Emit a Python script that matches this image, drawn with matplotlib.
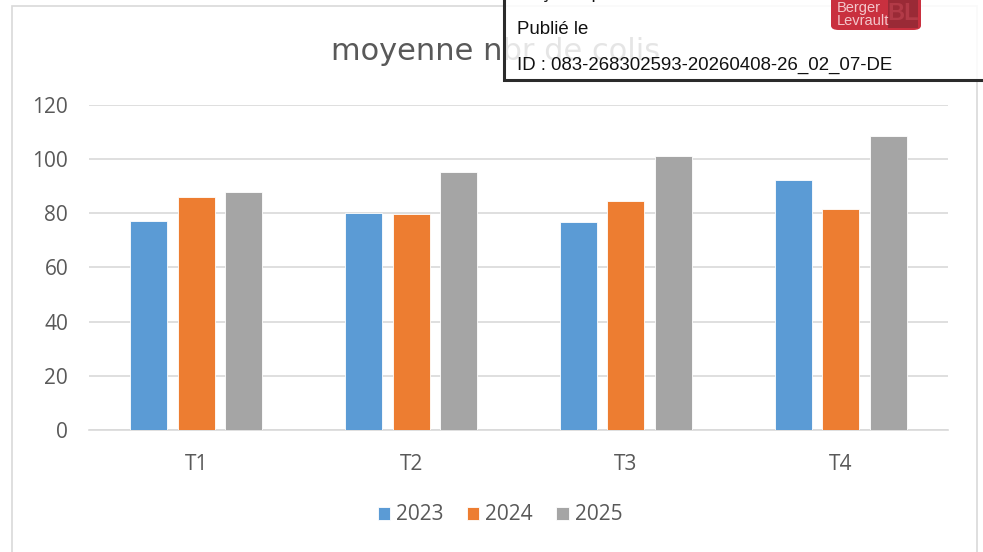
import numpy as np
import matplotlib
matplotlib.use("Agg")
import matplotlib.pyplot as plt
from matplotlib.patches import Rectangle, FancyBboxPatch

# data
categories = ["T1", "T2", "T3", "T4"]
years = ["2023", "2024", "2025"]
values_2023 = [77.2, 80.0, 76.8, 92.1]
values_2024 = [85.8, 79.7, 84.3, 81.6]
values_2025 = [87.7, 95.3, 100.9, 108.6]
colors = ["#5B9BD5", "#ED7D31", "#A5A5A5"]

W, H = 983, 552
fig = plt.figure(figsize=(W / 100, H / 100), dpi=100)
plt.rcParams['font.family'] = ['Open Sans', 'DejaVu Sans']
txt = "#595959"

def fx(px):
    return px / W

def fy(py):
    return 1 - py / H

# plot area
ax = fig.add_axes([fx(89), fy(430), fx(948) - fx(89), fy(104.7) - fy(430)])
x = np.arange(len(categories))
bw = 0.1725
step = 0.2214
series = [values_2023, values_2024, values_2025]
bars = []
for i, vals in enumerate(series):
    b = ax.bar(x + (i - 1) * step, vals, bw, color=colors[i], label=years[i],
               edgecolor="white", linewidth=0.6, zorder=3)
    bars.append(b)

ax.set_xlim(-0.5, 3.5)
ax.set_ylim(0, 120)
ax.set_yticks(range(0, 121, 20))
ax.set_xticks(x)
ax.set_xticklabels(categories)
ax.grid(axis="y", color="#D9D9D9", linewidth=1.2, zorder=0)
for s in ["top", "right", "left"]:
    ax.spines[s].set_visible(False)
ax.spines["bottom"].set_color("#D9D9D9")
ax.spines["bottom"].set_linewidth(1.2)
ax.tick_params(axis="both", length=0, labelsize=15, colors=txt)
ax.tick_params(axis="y", pad=15)
ax.tick_params(axis="x", pad=17)
ax.patch.set_alpha(0)

# title
fig.text(fx(496), fy(52), "moyenne nbr de colis", ha="center", va="center",
         fontsize=22, color=txt, family="DejaVu Sans")

# legend
fig.legend(handles=bars, labels=years, loc="center", bbox_to_anchor=(fx(500), fy(515)),
           ncol=3, frameon=False, fontsize=15, labelcolor=txt, handlelength=0.6,
           handleheight=0.6, handletextpad=0.3, columnspacing=1.1)

# chart border
fig.patches.append(Rectangle((fx(12), fy(560)), fx(977) - fx(12), fy(6) - fy(560),
                             transform=fig.transFigure, fill=False,
                             edgecolor="#D9D9D9", linewidth=1.2))

# stamp overlay
fig.patches.append(Rectangle((fx(504), fy(80)), fx(1000) - fx(504), fy(-20) - fy(80),
                             transform=fig.transFigure, facecolor=(1, 1, 1, 0.85),
                             edgecolor="#2b2b2b", linewidth=2.2, zorder=5))
stamp_font = ['Liberation Sans', 'DejaVu Sans']
fig.text(fx(517), fy(-6), "Reçu en préfecture le 15/04/2026", ha="left", va="center",
         fontsize=13.4, color="#111111", family=stamp_font, zorder=6)
fig.text(fx(517), fy(30), "Publié le", ha="left", va="center",
         fontsize=13.4, color="#111111", family=stamp_font, zorder=6)
fig.text(fx(517), fy(65), "ID : 083-268302593-20260408-26_02_07-DE", ha="left", va="center",
         fontsize=13.4, color="#111111", family=stamp_font, zorder=6)

# logo
fig.patches.append(FancyBboxPatch((fx(831), fy(30)), fx(921) - fx(831), fy(-10) - fy(30),
                                  boxstyle="round,pad=0,rounding_size=0.008",
                                  transform=fig.transFigure, facecolor="#C9303F",
                                  edgecolor="none", zorder=6))
fig.patches.append(Rectangle((fx(888), fy(28)), fx(918) - fx(888), fy(-10) - fy(28),
                             transform=fig.transFigure, facecolor="#9A2A36",
                             edgecolor="none", zorder=6))
fig.text(fx(837), fy(8), "Berger", ha="left", va="center", fontsize=10.5,
         color="#F3C6CB", family=stamp_font, zorder=7)
fig.text(fx(837), fy(21), "Levrault", ha="left", va="center", fontsize=10.5,
         color="#F3C6CB", family=stamp_font, zorder=7)
fig.text(fx(903), fy(14), "BL", ha="center", va="center", fontsize=17,
         color="#B23A47", family=stamp_font, weight="bold", zorder=7)

fig.savefig("out.png", dpi=100)
